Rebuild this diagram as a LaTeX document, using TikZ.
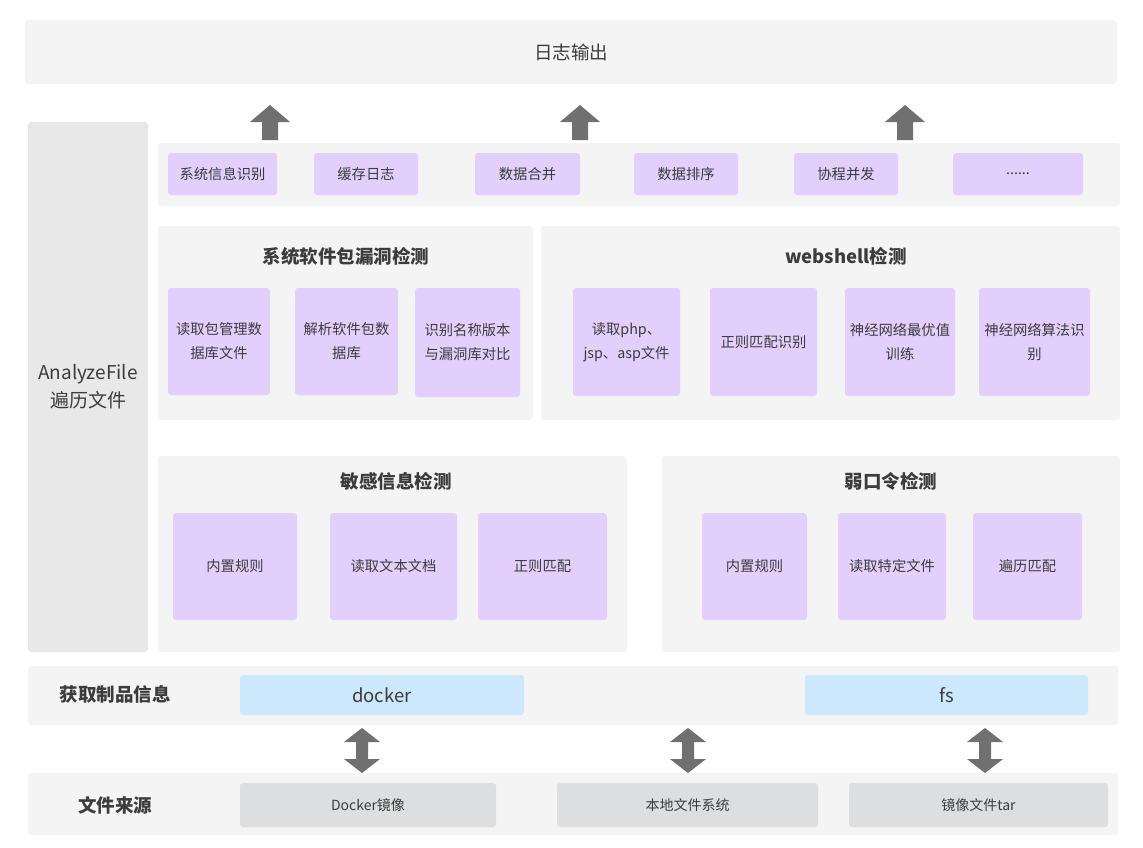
\documentclass[tikz,border=0pt]{standalone}
\usepackage{fontspec}
\setmainfont{Noto Sans CJK SC}
\begin{document}
\begin{tikzpicture}[x=1pt,y=-1pt,
  panel/.style={fill=panelc, draw=none, rounded corners=3pt, inner sep=0pt},
  leftc/.style={fill=leftcol, draw=none, rounded corners=3pt, inner sep=0pt},
  pbox/.style={fill=purp, draw=none, rounded corners=3pt, inner sep=0pt, text=txt, font=\fontsize{14.3}{24}\selectfont, align=center},
  bbox/.style={fill=bluec, draw=none, rounded corners=3pt, inner sep=0pt, text=txt, font=\fontsize{18.5}{22}\selectfont},
  gbox/.style={fill=grayc, draw=none, rounded corners=3pt, inner sep=0pt, text=txt, font=\fontsize{14}{17}\selectfont},
  ttl/.style={text=txt, font=\fontsize{18.5}{22}\selectfont\bfseries},
  arr/.style={fill=arrc, draw=none}
]
\definecolor{panelc}{HTML}{F4F4F4}
\definecolor{leftcol}{HTML}{E8E8E8}
\definecolor{purp}{HTML}{E2CFFC}
\definecolor{bluec}{HTML}{CCE8FD}
\definecolor{grayc}{HTML}{DDDEE0}
\definecolor{arrc}{HTML}{707070}
\definecolor{txt}{HTML}{3C3C3C}
\useasboundingbox[fill=white] (0,0) rectangle (1143,847);

% top log output
\node[panel, minimum width=1092, minimum height=64, text=txt, font=\fontsize{18.5}{22}\selectfont] (log) at (571,52) {日志输出};

% left column
\node[leftc, minimum width=120, minimum height=530, align=center, text=txt, font=\fontsize{19}{28}\selectfont] (analyze) at (88,387) {AnalyzeFile\\遍历文件};

% utility row
\node[panel, minimum width=962, minimum height=63] (util) at (639,174.5) {};
\node[pbox, minimum width=109, minimum height=42] (u1) at (222.5,174) {系统信息识别};
\node[pbox, minimum width=104, minimum height=42] (u2) at (366,174) {缓存日志};
\node[pbox, minimum width=105, minimum height=42] (u3) at (527.5,174) {数据合并};
\node[pbox, minimum width=104, minimum height=42] (u4) at (686,174) {数据排序};
\node[pbox, minimum width=104, minimum height=42] (u5) at (846,174) {协程并发};
\node[pbox, minimum width=130, minimum height=42] (u6) at (1018,174) {......};

% up arrows
\foreach \cx/\nm in {270/a1, 580/a2, 905/a3}{
  \coordinate (\nm) at (\cx,140);
  \fill[arr] (\nm) ++(-8,0) -- ++(0,-18) -- ++(-12,0) -- ++(20,-17) -- ++(20,17) -- ++(-12,0) -- ++(0,18) -- cycle;
}

% package vulnerability panel
\node[panel, minimum width=375, minimum height=194] (pkg) at (345.5,323) {};
\node[ttl] (pkgt) at (346,256) {系统软件包漏洞检测};
\node[pbox, minimum width=102, minimum height=107] (p1) at (219,341.5) {读取包管理数\\据库文件};
\node[pbox, minimum width=103, minimum height=107] (p2) at (346.5,341.5) {解析软件包数\\据库};
\node[pbox, minimum width=105, minimum height=109] (p3) at (467.5,342.5) {识别名称版本\\与漏洞库对比};

% webshell panel
\node[panel, minimum width=579, minimum height=194] (web) at (830.5,323) {};
\node[ttl] (webt) at (846,256) {webshell检测};
\node[pbox, minimum width=107, minimum height=108] (w1) at (626.5,342) {读取php、\\jsp、asp文件};
\node[pbox, minimum width=107, minimum height=108] (w2) at (763.5,342) {正则匹配识别};
\node[pbox, minimum width=110, minimum height=108] (w3) at (900,342) {神经网络最优值\\训练};
\node[pbox, minimum width=111, minimum height=108] (w4) at (1034.5,342) {神经网络算法识\\别};

% sensitive info panel
\node[panel, minimum width=469, minimum height=196] (sen) at (392.5,554) {};
\node[ttl] (sent) at (396,481) {敏感信息检测};
\node[pbox, minimum width=124, minimum height=107] (s1) at (235,566.5) {内置规则};
\node[pbox, minimum width=127, minimum height=107] (s2) at (393.5,566.5) {读取文本文档};
\node[pbox, minimum width=129, minimum height=107] (s3) at (542.5,566.5) {正则匹配};

% weak password panel
\node[panel, minimum width=458, minimum height=196] (weak) at (891,554) {};
\node[ttl] (weakt) at (891,481) {弱口令检测};
\node[pbox, minimum width=105, minimum height=107] (k1) at (754.5,566.5) {内置规则};
\node[pbox, minimum width=108, minimum height=107] (k2) at (892,566.5) {读取特定文件};
\node[pbox, minimum width=109, minimum height=107] (k3) at (1027.5,566.5) {遍历匹配};

% artifact info bar
\node[panel, minimum width=1090, minimum height=59] (art) at (573,695.5) {};
\node[ttl] (artt) at (115,694) {获取制品信息};
\node[bbox, minimum width=284, minimum height=40] (docker) at (382,695) {docker};
\node[bbox, minimum width=283, minimum height=40] (fs) at (946.5,695) {fs};

% file source bar
\node[panel, minimum width=1090, minimum height=62] (src) at (573,804) {};
\node[ttl] (srct) at (115,805) {文件来源};
\node[gbox, minimum width=256, minimum height=44] (g1) at (368,805) {Docker镜像};
\node[gbox, minimum width=261, minimum height=44] (g2) at (687.5,805) {本地文件系统};
\node[gbox, minimum width=259, minimum height=44] (g3) at (978.5,805) {镜像文件tar};

% double arrows
\foreach \cx/\nm in {362/d1, 688/d2, 985/d3}{
  \coordinate (\nm) at (\cx,728);
  \fill[arr] (\nm) -- ++(18,14) -- ++(-12,0) -- ++(0,17) -- ++(12,0) -- ++(-18,14) -- ++(-18,-14) -- ++(12,0) -- ++(0,-17) -- ++(-12,0) -- cycle;
}
\end{tikzpicture}
\end{document}
